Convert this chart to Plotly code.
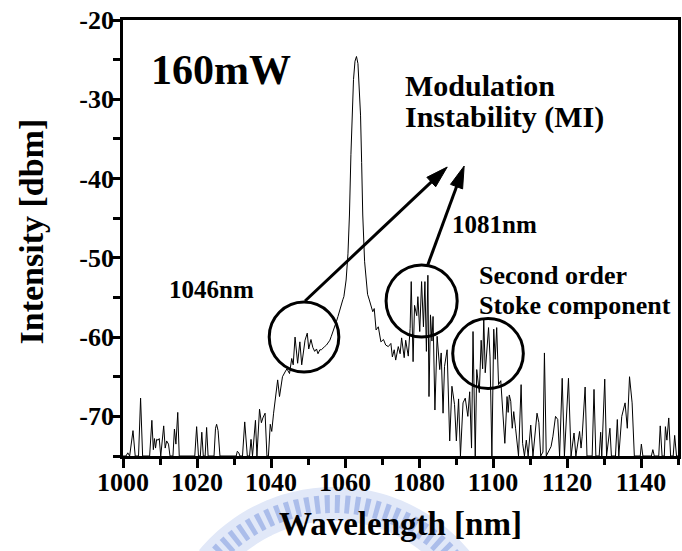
import numpy as np
import plotly.graph_objects as go

# ---------------- data ----------------
wavelength_nm = [
    1000.0, 1000.8, 1001.3, 1001.8, 1002.7, 1003.3, 1004.2, 1004.75, 1005.3, 1007.2,
    1007.8, 1008.2, 1008.5, 1008.8, 1009.1, 1009.5, 1009.8, 1010.2, 1011.0, 1011.4,
    1011.8, 1012.3, 1012.7, 1013.5, 1013.9, 1014.3, 1014.8, 1015.2, 1019.4, 1019.9,
    1020.4, 1020.9, 1021.3, 1021.7, 1022.2, 1022.6, 1023.0, 1024.6, 1025.0, 1025.3,
    1025.7, 1026.2, 1030.6, 1030.9, 1031.3, 1031.6, 1032.3, 1032.9, 1033.6, 1034.2,
    1034.6, 1035.0, 1035.8, 1036.2, 1036.9, 1037.4, 1037.8, 1038.4, 1038.9, 1039.3,
    1039.8, 1040.2, 1040.7, 1041.1, 1041.8, 1042.3, 1043.1, 1043.8, 1044.3, 1045.0,
    1045.6, 1046.0, 1046.5, 1047.2, 1047.8, 1048.3, 1049.2, 1049.8, 1050.2, 1050.8,
    1051.3, 1051.8, 1052.3, 1052.7, 1053.2, 1053.6, 1054.1, 1054.5, 1055.0, 1055.4,
    1055.9, 1056.3, 1056.8, 1057.2, 1057.7, 1058.1, 1058.6, 1059.0, 1059.4, 1059.7,
    1060.0, 1060.3, 1060.8, 1061.2, 1061.6, 1061.9, 1062.3, 1062.7, 1063.1, 1063.5,
    1063.9, 1064.2, 1064.5, 1064.8, 1065.3, 1065.7, 1066.1, 1066.5, 1067.0, 1067.5,
    1067.9, 1068.4, 1069.0, 1069.7, 1070.4, 1071.0, 1071.7, 1072.4, 1072.8, 1073.3,
    1073.7, 1074.4, 1074.9, 1075.3, 1076.0, 1076.4, 1077.1, 1077.6, 1077.9, 1078.4,
    1078.8, 1079.4, 1079.7, 1080.2, 1080.7, 1081.2, 1081.6, 1082.0, 1082.4, 1082.7,
    1083.1, 1083.5, 1083.8, 1084.3, 1084.9, 1085.6, 1086.0, 1086.5, 1086.9, 1087.6,
    1088.3, 1088.9, 1089.6, 1090.1, 1090.7, 1091.2, 1091.9, 1092.5, 1093.2, 1093.7,
    1094.2, 1094.6, 1095.2, 1095.6, 1096.3, 1096.8, 1097.2, 1097.5, 1097.9, 1098.3,
    1098.8, 1099.2, 1099.7, 1100.2, 1100.6, 1101.0, 1101.5, 1102.1, 1102.6, 1103.2,
    1103.8, 1104.1, 1104.4, 1104.8, 1105.2, 1105.6, 1106.1, 1106.5, 1106.9, 1107.6,
    1108.0, 1108.5, 1109.0, 1109.5, 1110.2, 1110.8, 1111.9, 1112.4, 1112.9, 1113.5,
    1113.9, 1114.4, 1115.7, 1116.2, 1116.9, 1117.5, 1118.0, 1118.7, 1119.3, 1120.4,
    1121.1, 1121.9, 1122.4, 1123.4, 1123.8, 1124.1, 1124.9, 1125.4, 1126.8, 1127.3,
    1127.8, 1128.7, 1129.1, 1129.4, 1130.2, 1130.7, 1131.6, 1132.0, 1133.1, 1133.6,
    1134.0, 1134.8, 1135.7, 1136.3, 1136.9, 1137.6, 1138.2, 1139.8, 1140.1, 1140.5,
    1142.8, 1143.2, 1143.6, 1144.8, 1145.2, 1145.7, 1146.3, 1146.6, 1147.0, 1147.5,
    1148.0, 1148.7, 1149.1, 1149.6, 1150.0,
]
intensity_dbm = [
    -75.0, -75.0, -74.6, -75.0, -71.8, -75.0, -75.0, -67.7, -75.0, -75.0,
    -70.5, -74.2, -72.8, -74.0, -72.9, -73.0, -72.8, -75.0, -71.2, -74.0,
    -73.1, -73.5, -75.0, -75.0, -71.6, -73.5, -69.5, -75.0, -75.0, -71.3,
    -75.0, -75.0, -72.0, -75.0, -75.0, -71.4, -75.0, -75.0, -71.5, -71.0,
    -71.8, -75.0, -75.0, -74.4, -74.6, -75.0, -75.0, -70.7, -75.0, -75.0,
    -72.9, -75.0, -70.5, -75.0, -69.1, -70.8, -70.2, -69.6, -75.0, -75.0,
    -71.0, -71.9, -69.6, -68.3, -65.4, -67.5, -65.0, -64.4, -64.0, -64.6,
    -62.7, -63.5, -60.0, -63.3, -60.6, -63.5, -60.4, -59.5, -61.5, -60.3,
    -61.3, -61.8, -61.5, -62.1, -61.6, -61.6, -61.3, -61.2, -61.0, -60.7,
    -60.4, -59.9, -59.3, -58.7, -58.0, -57.4, -56.5, -55.7, -55.3, -54.9,
    -54.0, -52.8, -49.5, -44.6, -37.0, -32.0, -27.5, -25.2, -24.6, -25.5,
    -28.5, -32.0, -38.0, -44.6, -50.5, -53.2, -54.6, -55.2, -56.0, -56.8,
    -56.4, -59.1, -58.7, -60.6, -60.3, -61.0, -61.2, -60.8, -62.5, -61.6,
    -62.9, -61.2, -62.1, -60.1, -62.6, -60.4, -62.4, -58.9, -53.0, -63.1,
    -56.0, -57.3, -54.9, -59.3, -53.0, -58.7, -53.0, -61.8, -52.2, -67.5,
    -57.2, -60.5, -57.4, -69.2, -59.9, -64.1, -62.0, -69.6, -63.7, -61.6,
    -73.1, -66.2, -68.5, -73.1, -67.8, -75.0, -68.3, -67.7, -70.0, -66.9,
    -74.0, -59.3, -75.0, -64.1, -67.0, -60.4, -64.0, -57.6, -64.5, -61.6,
    -58.8, -62.5, -75.0, -59.0, -62.8, -58.8, -66.0, -65.5, -69.8, -73.4,
    -67.5, -69.5, -67.3, -68.1, -71.5, -69.4, -71.5, -73.8, -75.0, -66.0,
    -73.4, -75.0, -73.0, -75.0, -71.1, -75.0, -69.6, -70.8, -75.0, -74.5,
    -62.0, -75.0, -73.8, -72.5, -70.0, -70.4, -75.0, -65.2, -75.0, -65.2,
    -75.0, -72.1, -75.0, -71.9, -74.0, -72.5, -66.3, -75.0, -75.0, -66.6,
    -75.0, -75.0, -72.0, -75.0, -65.3, -75.0, -71.5, -75.0, -75.0, -70.4,
    -75.0, -70.0, -68.3, -71.5, -65.0, -68.3, -75.0, -75.0, -73.5, -75.0,
    -75.0, -74.2, -75.0, -75.0, -71.2, -75.0, -75.0, -71.3, -73.0, -70.2,
    -75.0, -75.0, -72.4, -75.0, -75.0,
]

x_tick_vals = [1000, 1020, 1040, 1060, 1080, 1100, 1120, 1140]
x_tick_text = ["1000", "1020", "1040", "1060", "1080", "1100", "1120", "1140"]
y_tick_vals = [-70, -60, -50, -40, -30, -20]
y_tick_text = ["-70", "-60", "-50", "-40", "-30", "-20"]
x_range = [1000, 1150]
y_range = [-75, -20]

# ---------------- layout geometry ----------------
W, H = 682, 551
ML, MR, MT, MB = 123, 1, 20, 95
PW, PH = W - ML - MR, H - MT - MB
SERIF = "Liberation Serif"


def paper(px, py):
    return (px - ML) / PW, (H - MB - py) / PH


fig = go.Figure()
fig.add_trace(go.Scatter(
    x=wavelength_nm, y=intensity_dbm, mode="lines",
    line=dict(color="black", width=1), hoverinfo="skip", showlegend=False,
))
# empty trace that carries the label-only overlay axes
fig.add_trace(go.Scatter(x=[], y=[], xaxis="x2", yaxis="y2", showlegend=False, hoverinfo="skip"))

tickfont = dict(family=SERIF, size=26, color="black", weight="bold")

fig.update_layout(
    xaxis=dict(
        range=x_range, tickvals=x_tick_vals, showticklabels=False,
        ticks="outside", ticklen=9, tickwidth=3, tickcolor="black",
        minor=dict(dtick=10, tick0=1000, ticks="outside", ticklen=6, tickwidth=3, tickcolor="black"),
        showline=True, linewidth=3, linecolor="black", mirror=True,
        showgrid=False, zeroline=False,
    ),
    yaxis=dict(
        range=y_range, tickvals=y_tick_vals, showticklabels=False,
        ticks="outside", ticklen=10, tickwidth=3, tickcolor="black",
        minor=dict(dtick=5, tick0=-20, ticks="outside", ticklen=7, tickwidth=3, tickcolor="black"),
        showline=True, linewidth=3, linecolor="black", mirror=True,
        showgrid=False, zeroline=False,
    ),
    xaxis2=dict(
        range=x_range, tickvals=x_tick_vals, ticktext=x_tick_text, overlaying="x", anchor="y2",
        side="bottom", ticks="", showline=False, showgrid=False, zeroline=False,
        tickfont=tickfont, ticklabelstandoff=8,
    ),
    yaxis2=dict(
        range=y_range, tickvals=y_tick_vals, ticktext=y_tick_text, overlaying="y", anchor="x2",
        side="left", ticks="", showline=False, showgrid=False, zeroline=False,
        tickfont=tickfont, ticklabelstandoff=8,
    ),
)

shapes = []

# faint watermark arc behind the x-axis title
cx, cy, R = 335.0, 664.0, 160.0
ang = np.linspace(np.radians(220), np.radians(322), 60)
pts = [paper(cx + R * np.cos(a), cy + R * np.sin(a)) for a in ang]
path = "M " + " L ".join(f"{x:.4f},{y:.4f}" for x, y in pts)
shapes.append(dict(type="path", xref="paper", yref="paper", path=path, layer="below",
                   line=dict(color="rgba(225,232,248,1)", width=34)))
shapes.append(dict(type="path", xref="paper", yref="paper", path=path, layer="below",
                   line=dict(color="rgba(135,160,225,0.6)", width=18, dash="5px,5px")))

# circles around features (pixel boxes)
for (x0, y0, x1, y1) in [(270, 302, 340, 372), (387.5, 265, 459, 337), (454.5, 318.5, 525.5, 388.5)]:
    a0, b0 = paper(x0, y1)
    a1, b1 = paper(x1, y0)
    shapes.append(dict(type="circle", xref="paper", yref="paper", x0=a0, y0=b0, x1=a1, y1=b1,
                       line=dict(color="black", width=3)))

# arrows: line + slim filled head
for (tx, ty, hx, hy) in [(306, 301, 449, 167), (429, 266, 466, 166)]:
    d = np.array([hx - tx, hy - ty], dtype=float)
    u = d / np.linalg.norm(d)
    n = np.array([-u[1], u[0]])
    tip = np.array([hx, hy], dtype=float)
    base = tip - 22 * u
    c1 = base + 6.5 * n
    c2 = base - 6.5 * n
    p0 = paper(tx, ty)
    p1 = paper(*(base + 2 * u))
    shapes.append(dict(type="line", xref="paper", yref="paper", x0=p0[0], y0=p0[1], x1=p1[0], y1=p1[1],
                       line=dict(color="black", width=3)))
    q = [paper(*tip), paper(*c1), paper(*c2)]
    shapes.append(dict(type="path", xref="paper", yref="paper",
                       path="M {:.4f},{:.4f} L {:.4f},{:.4f} L {:.4f},{:.4f} Z".format(*q[0], *q[1], *q[2]),
                       fillcolor="black", line=dict(color="black", width=1)))

annotations = []


def label(text, px, py, size, xanchor="left", angle=0):
    x, y = paper(px, py)
    annotations.append(dict(text=text, x=x, y=y, xref="paper", yref="paper", xanchor=xanchor,
                            yanchor="middle", showarrow=False, textangle=angle,
                            font=dict(family=SERIF, size=size, color="black", weight="bold")))


label("160mW", 149, 70, 42)
label("Modulation", 405, 85, 30)
label("Instability (MI)", 405, 117, 30)
label("1081nm", 452, 224, 25)
label("1046nm", 167, 289, 25)
label("Second order", 479, 275, 26)
label("Stoke component", 479, 305, 26)
label("Intensity [dbm]", 30, 232, 34, xanchor="center", angle=-90)
label("Wavelength [nm]", 402, 524, 33, xanchor="center")

fig.update_layout(
    width=W, height=H, margin=dict(l=ML, r=MR, t=MT, b=MB, pad=0),
    paper_bgcolor="white", plot_bgcolor="white",
    shapes=shapes, annotations=annotations, showlegend=False,
)

fig.write_html("out.html")
